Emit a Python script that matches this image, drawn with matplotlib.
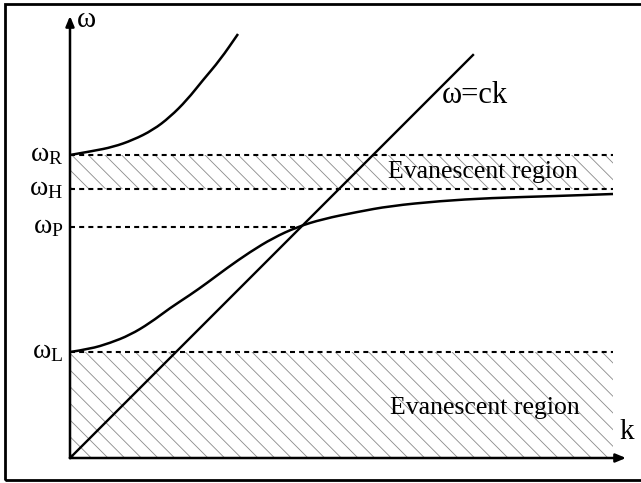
import matplotlib.pyplot as plt
from matplotlib.patches import Rectangle, PathPatch
from matplotlib.path import Path

plt.rcParams['font.family'] = ['Liberation Serif', 'DejaVu Serif']
plt.rcParams['mathtext.fontset'] = 'custom'
plt.rcParams['mathtext.rm'] = 'Liberation Serif'
plt.rcParams['mathtext.it'] = 'Liberation Serif'
plt.rcParams['hatch.color'] = '#8a8a8a'
plt.rcParams['hatch.linewidth'] = 0.6

# characteristic frequencies
w_L = 1.06
w_P = 2.31
w_H = 2.69
w_R = 3.03
k_max = 5.43
cutoff_names = ['R', 'H', 'P', 'L']
cutoff_vals = [w_R, w_H, w_P, w_L]

# upper (R) branch
k_upper = [0.0, 0.23, 0.43, 0.63, 0.83, 1.00, 1.17, 1.33, 1.50, 1.68]
w_upper = [3.03, 3.07, 3.11, 3.18, 3.28, 3.41, 3.58, 3.78, 3.98, 4.24]

# lower (L) branch, tends to w_H
k_lower = [0.0, 0.20, 0.40, 0.60, 0.80, 1.00, 1.20, 1.37, 1.57, 1.80, 2.03,
           2.27, 2.53, 2.87, 3.20, 3.70, 4.20, 4.87, 5.43]
w_lower = [1.06, 1.09, 1.15, 1.23, 1.35, 1.50, 1.63, 1.75, 1.90, 2.06, 2.20,
           2.31, 2.39, 2.46, 2.52, 2.57, 2.60, 2.62, 2.64]

# light line w = ck
k_light = [0.0, 4.03]
w_light = [0.0, 4.03]


def smooth_curve(ax, xs, ys, **kw):
    """Draw a curve through the points as quadratic beziers between midpoints."""
    pts = list(zip(xs, ys))
    verts = [pts[0]]
    codes = [Path.MOVETO]
    for i in range(1, len(pts) - 1):
        mid = ((pts[i][0] + pts[i + 1][0]) / 2, (pts[i][1] + pts[i + 1][1]) / 2)
        verts += [pts[i], mid]
        codes += [Path.CURVE3, Path.CURVE3]
    verts.append(pts[-1])
    codes.append(Path.LINETO)
    ax.add_patch(PathPatch(Path(verts, codes), fill=False, **kw))


fig = plt.figure(figsize=(6.41, 4.83), dpi=100)
ax = fig.add_axes([0, 0, 1, 1])
ax.set_xlim(-0.70, 5.71)
ax.set_ylim(-0.25, 4.58)
ax.axis('off')

# frame around the drawing
ax.add_patch(Rectangle((-0.65, -0.22), 6.5, 4.76, fill=False, lw=2.0,
                       ec='black', clip_on=False))

# evanescent bands
ax.fill_between([0, k_max], w_H, w_R, facecolor='none', edgecolor='#8a8a8a',
                hatch='\\\\', linewidth=0)
ax.fill_between([0, k_max], 0, w_L, facecolor='none', edgecolor='#8a8a8a',
                hatch='\\\\', linewidth=0)

# cutoff lines
for name, w in zip(cutoff_names, cutoff_vals):
    x_end = w_P if name == 'P' else k_max
    ax.plot([0, x_end], [w, w], color='black', lw=1.5, dashes=(2.4, 2.0))
    ax.text(-0.07, w, r'$\omega_{\mathrm{%s}}$' % name, ha='right', va='center',
            fontsize=20)

# axes with arrows
ax.annotate('', xy=(0, 4.42), xytext=(0, 0),
            arrowprops=dict(arrowstyle='-|>,head_length=0.6,head_width=0.25',
                            lw=1.8, color='black', shrinkA=0, shrinkB=0))
ax.annotate('', xy=(5.56, 0), xytext=(0, 0),
            arrowprops=dict(arrowstyle='-|>,head_length=0.6,head_width=0.25',
                            lw=1.8, color='black', shrinkA=0, shrinkB=0))
ax.text(0.07, 4.38, 'ω', fontsize=21, ha='left', va='center')
ax.text(5.49, 0.26, 'k', fontsize=21, ha='left', va='center')

# dispersion curves
smooth_curve(ax, k_upper, w_upper, ec='black', lw=1.8)
smooth_curve(ax, k_lower, w_lower, ec='black', lw=1.8)
ax.plot(k_light, w_light, color='black', lw=1.7)
ax.text(3.72, 3.63, 'ω=ck', fontsize=22, ha='left', va='center')

ax.text(3.18, 2.86, 'Evanescent region', fontsize=18.5, ha='left', va='center')
ax.text(3.20, 0.50, 'Evanescent region', fontsize=18.5, ha='left', va='center')

fig.savefig('out.png', dpi=100)
plt.close(fig)
